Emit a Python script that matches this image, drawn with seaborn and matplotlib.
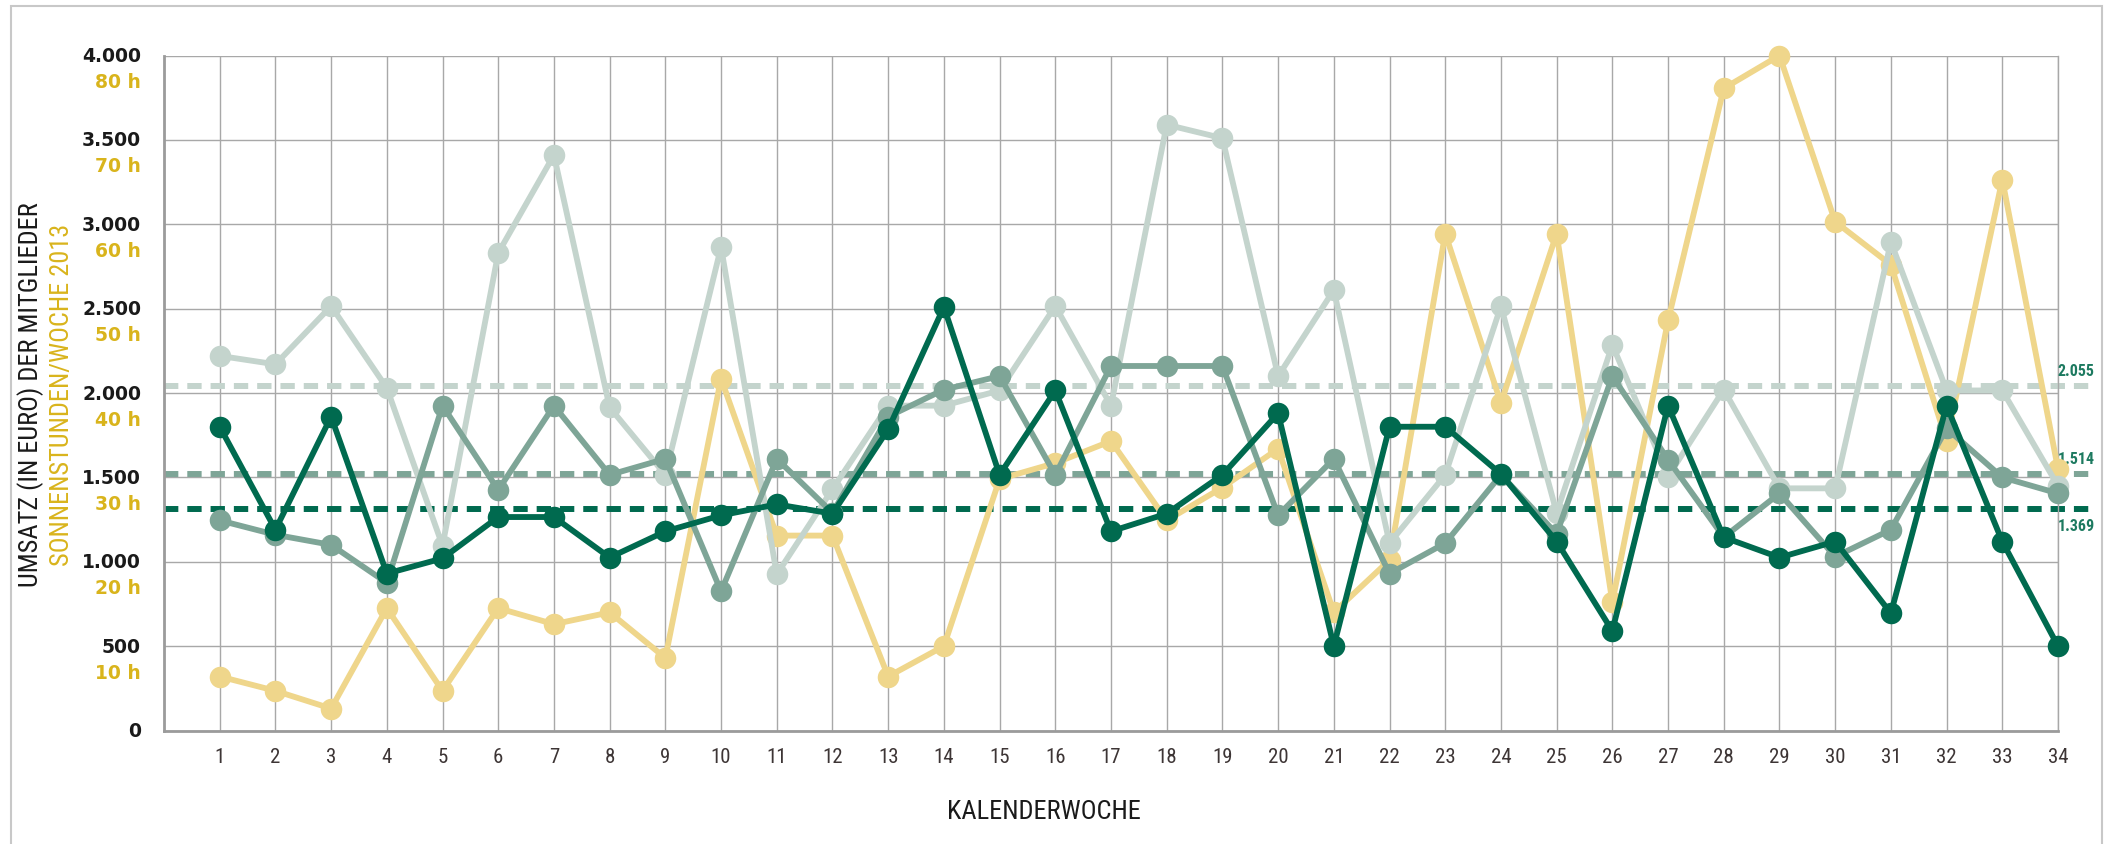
import matplotlib
matplotlib.use('Agg')
import matplotlib.pyplot as plt
import seaborn as sns
from matplotlib.patches import Rectangle

sns.set_style('white')

# Kalenderwochen 1-34
wochen = list(range(1, 35))

# Umsatz der Mitglieder in Euro (drei Gruppen)
umsatz_hell = [2220, 2170, 2515, 2030, 1095, 2830, 3410, 1915, 1515, 2865,
               925, 1430, 1925, 1925, 2015, 2515, 1925, 3590, 3510, 2100,
               2610, 1110, 1515, 2515, 1290, 2285, 1505, 2020, 1435, 1435,
               2895, 2015, 2015, 1450]
umsatz_mittel = [1245, 1160, 1100, 875, 1925, 1425, 1925, 1515, 1610, 825,
                 1610, 1290, 1860, 2020, 2100, 1515, 2160, 2160, 2160, 1275,
                 1610, 930, 1110, 1515, 1165, 2100, 1605, 1145, 1405, 1030,
                 1190, 1790, 1500, 1405]
umsatz_dunkel = [1800, 1190, 1860, 930, 1020, 1265, 1265, 1025, 1180, 1275,
                 1340, 1285, 1785, 2510, 1515, 2015, 1180, 1285, 1515, 1880,
                 500, 1800, 1800, 1520, 1120, 590, 1925, 1145, 1025, 1120,
                 695, 1925, 1120, 500]

# Sonnenstunden pro Woche 2013
sonnenstunden = [6.4, 4.7, 2.6, 14.5, 4.7, 14.5, 12.6, 14.0, 8.6, 41.7,
                 23.1, 23.1, 6.4, 10.0, 29.8, 31.7, 34.3, 24.9, 28.8, 33.4,
                 14.0, 20.2, 58.9, 38.8, 58.9, 15.2, 48.6, 76.1, 80.0, 60.3,
                 55.2, 34.3, 65.3, 31.0]

# Durchschnitt: Lage der Linie (wie gezeichnet) und Beschriftung (hell, mittel, dunkel)
durchschnitt_linie = [2040, 1522, 1312]
durchschnitt_text = ['2.055', '1.514', '1.369']

y_ticks = [0, 500, 1000, 1500, 2000, 2500, 3000, 3500, 4000]
y_labels_euro = ['0', '500', '1.000', '1.500', '2.000', '2.500', '3.000', '3.500', '4.000']
y_labels_stunden = ['', '10 h', '20 h', '30 h', '40 h', '50 h', '60 h', '70 h', '80 h']

# 80 h entsprechen 4.000 Euro auf der gemeinsamen Achse
euro_pro_stunde = 4000 / 80

HELL = '#c4d4cd'
MITTEL = '#7ea597'
DUNKEL = '#006a4f'
GELB = '#efd68b'
GELB_TEXT = '#d9b41c'
GRID = '#a8a8a8'
SPINE = '#9b9b9b'
cond = ['Roboto Condensed', 'Roboto', 'DejaVu Sans']

fig = plt.figure(figsize=(21.12, 8.45), dpi=100)
ax = fig.add_axes([164 / 2112, 1 - 731.5 / 845, (2058 - 164) / 2112, 675 / 845])

# Rahmen um die Grafik
fig.add_artist(Rectangle((11 / 2112, -0.02), 2091 / 2112, 1.02 - 7 / 845,
                         transform=fig.transFigure, fill=False, ec='#c8c8c8', lw=1.5))

# Durchschnittslinien
for wert, farbe in zip(durchschnitt_linie, [HELL, MITTEL, DUNKEL]):
    ax.plot([0, 34.66], [wert, wert], color=farbe, lw=4.3, dashes=(2.4, 1.5),
            clip_on=False, zorder=2.5, dash_capstyle='butt')

for txt, wert, dy in zip(durchschnitt_text, durchschnitt_linie, [16, 15, -16]):
    ax.annotate(txt, xy=(34.66, wert), xytext=(0, dy), textcoords='offset pixels',
                ha='right', va='center', fontsize=11.5, fontweight='bold',
                family=cond, color='#1d7a60', annotation_clip=False)

serien = [
    ([h * euro_pro_stunde for h in sonnenstunden], GELB, 3),
    (umsatz_hell, HELL, 4),
    (umsatz_mittel, MITTEL, 5),
    (umsatz_dunkel, DUNKEL, 6),
]
for werte, farbe, z in serien:
    sns.lineplot(x=wochen, y=werte, ax=ax, color=farbe, linewidth=4.2,
                 marker='o', markersize=15.5, markeredgewidth=0,
                 clip_on=False, zorder=z, legend=False)

ax.set_xlim(0, 34)
ax.set_ylim(0, 4000)
ax.set_xticks(wochen)
ax.set_yticks(y_ticks)
ax.grid(True, color=GRID, linewidth=1.0)
ax.set_axisbelow(True)
ax.spines['top'].set_visible(False)
ax.spines['right'].set_color(GRID)
ax.spines['right'].set_linewidth(1.0)
for s in ['left', 'bottom']:
    ax.spines[s].set_color(SPINE)
    ax.spines[s].set_linewidth(2.0)

ax.tick_params(axis='y', length=5, width=1.0, color=GRID, labelleft=False)
ax.tick_params(axis='x', length=7.2, width=1.0, color=GRID, pad=5,
               labelsize=15, labelcolor='#3d3535')
for lbl in ax.get_xticklabels():
    lbl.set_family(cond)
ax.set_xlabel('')
ax.set_ylabel('')

# y-Beschriftung: Euro (schwarz) und Stunden (gelb)
for wert, euro, std in zip(y_ticks, y_labels_euro, y_labels_stunden):
    ax.annotate(euro, xy=(0, wert), xycoords=('axes fraction', 'data'),
                xytext=(-23, 0), textcoords='offset pixels', ha='right', va='center',
                fontsize=13.5, fontweight='bold', color='#1a1a1a', annotation_clip=False)
    if std:
        ax.annotate(std, xy=(0, wert), xycoords=('axes fraction', 'data'),
                    xytext=(-23, -26), textcoords='offset pixels', ha='right', va='center',
                    fontsize=13.5, fontweight='bold', color=GELB_TEXT, annotation_clip=False)

fig.text(31 / 2112, 1 - 395 / 845, 'UMSATZ (IN EURO) DER MITGLIEDER', rotation=90,
         ha='center', va='center', fontsize=19, family=cond, color='#1a1a1a')
fig.text(62 / 2112, 1 - 395 / 845, 'SONNENSTUNDEN/WOCHE 2013', rotation=90,
         ha='center', va='center', fontsize=19, family=cond, color=GELB_TEXT)
fig.text(1044 / 2112, 1 - 812 / 845, 'KALENDERWOCHE', ha='center', va='center',
         fontsize=19, family=cond, color='#1a1a1a')

fig.savefig('out.png', dpi=100)
